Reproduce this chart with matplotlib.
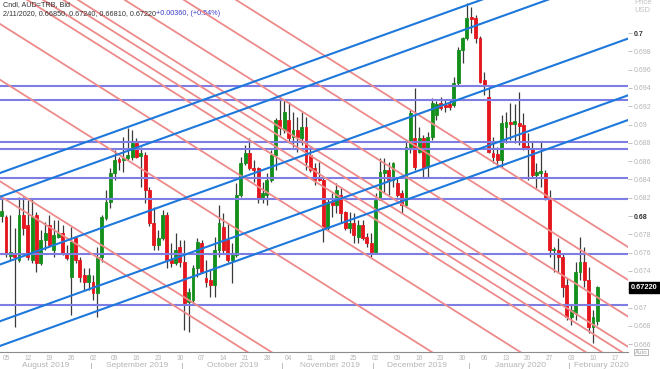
import numpy as np
import matplotlib.pyplot as plt
from matplotlib import transforms

plt.rcParams['font.family'] = ['Liberation Sans', 'DejaVu Sans']

#-------Candles: weekday index counted from 01 Aug 2019-----------
day = np.arange(1, 139)
opn = [0.6800, 0.6799, 0.6756, 0.6759, 0.6752, 0.6801, 0.6790, 0.6752, 0.6801, 0.6749,
       0.6774, 0.6790, 0.6763, 0.6777, 0.6781, 0.6760, 0.6733, 0.6776, 0.6752, 0.6736,
       0.6728, 0.6728, 0.6716, 0.6755, 0.6798, 0.6815, 0.6847, 0.6862, 0.6861, 0.6863,
       0.6865, 0.6880, 0.6866, 0.6867, 0.6828, 0.6792, 0.6768, 0.6776, 0.6801, 0.6752,
       0.6749, 0.6766, 0.6750, 0.6706, 0.6708, 0.6743, 0.6771, 0.6732, 0.6730, 0.6725,
       0.6763, 0.6788, 0.6774, 0.6752, 0.6757, 0.6823, 0.6858, 0.6869, 0.6853, 0.6853,
       0.6820, 0.6823, 0.6839, 0.6867, 0.6905, 0.6894, 0.6905, 0.6886, 0.6894, 0.6885,
       0.6897, 0.6867, 0.6853, 0.6843, 0.6839, 0.6787, 0.6815, 0.6812, 0.6823, 0.6804,
       0.6787, 0.6792, 0.6777, 0.6790, 0.6777, 0.6771, 0.6761, 0.6818, 0.6847, 0.6850,
       0.6839, 0.6836, 0.6825, 0.6812, 0.6875, 0.6885, 0.6870, 0.6885, 0.6854, 0.6886,
       0.6910, 0.6924, 0.6921, 0.6922, 0.6921, 0.6945, 0.6982, 0.6995, 0.7018, 0.7016,
       0.6995, 0.6949, 0.6930, 0.6869, 0.6868, 0.6861, 0.6897, 0.6903, 0.6901, 0.6902,
       0.6900, 0.6877, 0.6874, 0.6845, 0.6847, 0.6847, 0.6818, 0.6763, 0.6763, 0.6755,
       0.6725, 0.6690, 0.6694, 0.6739, 0.6750, 0.6730, 0.6679, 0.6685]
high = [0.6821, 0.6801, 0.6801, 0.6787, 0.6821, 0.6821, 0.6818, 0.6820, 0.6804, 0.6785,
        0.6794, 0.6801, 0.6796, 0.6796, 0.6790, 0.6768, 0.6788, 0.6777, 0.6755, 0.6743,
        0.6743, 0.6736, 0.6766, 0.6801, 0.6828, 0.6853, 0.6872, 0.6865, 0.6886, 0.6896,
        0.6894, 0.6885, 0.6875, 0.6870, 0.6832, 0.6810, 0.6785, 0.6807, 0.6804, 0.6771,
        0.6781, 0.6774, 0.6774, 0.6721, 0.6747, 0.6776, 0.6774, 0.6752, 0.6741, 0.6777,
        0.6812, 0.6803, 0.6792, 0.6771, 0.6836, 0.6865, 0.6878, 0.6885, 0.6861, 0.6854,
        0.6837, 0.6847, 0.6872, 0.6907, 0.6930, 0.6927, 0.6925, 0.6914, 0.6908, 0.6914,
        0.6908, 0.6875, 0.6858, 0.6859, 0.6842, 0.6820, 0.6825, 0.6836, 0.6832, 0.6806,
        0.6804, 0.6803, 0.6796, 0.6796, 0.6781, 0.6781, 0.6825, 0.6863, 0.6863, 0.6859,
        0.6859, 0.6843, 0.6828, 0.6883, 0.6916, 0.6940, 0.6897, 0.6889, 0.6892, 0.6929,
        0.6926, 0.6930, 0.6927, 0.6927, 0.6952, 0.6985, 0.6996, 0.7033, 0.7028, 0.7020,
        0.6997, 0.6957, 0.6941, 0.6886, 0.6875, 0.6910, 0.6914, 0.6924, 0.6922, 0.6936,
        0.6913, 0.6891, 0.6881, 0.6858, 0.6881, 0.6850, 0.6828, 0.6766, 0.6776, 0.6760,
        0.6732, 0.6703, 0.6750, 0.6777, 0.6766, 0.6744, 0.6697, 0.6724]
low = [0.6794, 0.6755, 0.6752, 0.6679, 0.6750, 0.6779, 0.6752, 0.6749, 0.6739, 0.6747,
       0.6763, 0.6766, 0.6755, 0.6776, 0.6757, 0.6752, 0.6692, 0.6749, 0.6728, 0.6719,
       0.6719, 0.6708, 0.6690, 0.6750, 0.6796, 0.6809, 0.6839, 0.6850, 0.6848, 0.6861,
       0.6861, 0.6863, 0.6832, 0.6814, 0.6789, 0.6763, 0.6763, 0.6774, 0.6743, 0.6744,
       0.6747, 0.6744, 0.6675, 0.6673, 0.6703, 0.6733, 0.6738, 0.6722, 0.6712, 0.6712,
       0.6755, 0.6760, 0.6750, 0.6727, 0.6755, 0.6821, 0.6856, 0.6850, 0.6837, 0.6814,
       0.6814, 0.6812, 0.6837, 0.6850, 0.6889, 0.6891, 0.6880, 0.6875, 0.6870, 0.6878,
       0.6850, 0.6848, 0.6834, 0.6838, 0.6772, 0.6785, 0.6799, 0.6803, 0.6792, 0.6785,
       0.6781, 0.6771, 0.6771, 0.6774, 0.6766, 0.6755, 0.6760, 0.6817, 0.6825, 0.6823,
       0.6832, 0.6821, 0.6803, 0.6810, 0.6869, 0.6850, 0.6869, 0.6843, 0.6842, 0.6883,
       0.6905, 0.6916, 0.6914, 0.6916, 0.6919, 0.6943, 0.6967, 0.6992, 0.7000, 0.6989,
       0.6945, 0.6932, 0.6869, 0.6858, 0.6854, 0.6853, 0.6880, 0.6883, 0.6880, 0.6878,
       0.6872, 0.6839, 0.6843, 0.6831, 0.6832, 0.6818, 0.6755, 0.6739, 0.6738, 0.6712,
       0.6686, 0.6681, 0.6686, 0.6730, 0.6722, 0.6672, 0.6661, 0.6681]
close = [0.6806, 0.6760, 0.6761, 0.6755, 0.6801, 0.6787, 0.6755, 0.6799, 0.6749, 0.6774,
         0.6781, 0.6768, 0.6779, 0.6781, 0.6760, 0.6754, 0.6772, 0.6752, 0.6733, 0.6728,
         0.6736, 0.6716, 0.6755, 0.6799, 0.6815, 0.6847, 0.6861, 0.6859, 0.6863, 0.6867,
         0.6880, 0.6865, 0.6869, 0.6828, 0.6792, 0.6768, 0.6776, 0.6801, 0.6752, 0.6749,
         0.6763, 0.6750, 0.6705, 0.6717, 0.6743, 0.6772, 0.6739, 0.6728, 0.6725, 0.6763,
         0.6792, 0.6763, 0.6752, 0.6757, 0.6823, 0.6858, 0.6869, 0.6853, 0.6850, 0.6820,
         0.6825, 0.6839, 0.6867, 0.6905, 0.6896, 0.6914, 0.6885, 0.6894, 0.6886, 0.6897,
         0.6859, 0.6850, 0.6839, 0.6839, 0.6787, 0.6815, 0.6812, 0.6828, 0.6803, 0.6787,
         0.6792, 0.6779, 0.6790, 0.6776, 0.6771, 0.6761, 0.6818, 0.6848, 0.6850, 0.6839,
         0.6858, 0.6823, 0.6812, 0.6875, 0.6913, 0.6854, 0.6885, 0.6853, 0.6886, 0.6924,
         0.6922, 0.6918, 0.6919, 0.6919, 0.6945, 0.6982, 0.6995, 0.7016, 0.7015, 0.6995,
         0.6947, 0.6943, 0.6870, 0.6865, 0.6861, 0.6902, 0.6903, 0.6901, 0.6904, 0.6898,
         0.6874, 0.6873, 0.6845, 0.6848, 0.6849, 0.6820, 0.6763, 0.6764, 0.6755, 0.6722,
         0.6690, 0.6697, 0.6739, 0.6750, 0.6730, 0.6679, 0.6690, 0.6722]

#-------Drawn levels and channels-----------
levels = [0.6942, 0.6927, 0.6881, 0.6873, 0.6842, 0.6819, 0.6759, 0.6703]
line_days = [0.6, 145.1]
blue_start = [0.6847, 0.6821, 0.6747, 0.6685, 0.6658]
blue_end = [0.7094, 0.7068, 0.6994, 0.6932, 0.6905]
red_start = [0.6822, 0.6838, 0.6949, 0.7010, 0.7055, 0.7066, 0.7080, 0.7090, 0.7122, 0.7163, 0.7199]
red_end = [0.6389, 0.6406, 0.6516, 0.6577, 0.6622, 0.6633, 0.6647, 0.6657, 0.6690, 0.6730, 0.6766]

#-------Axis labels-----------
tick_days = np.arange(2, 143, 5)
tick_labels = ['05', '12', '19', '26', '02', '09', '16', '23', '30', '07', '14', '21', '28', '04',
               '11', '18', '25', '02', '09', '16', '23', '30', '06', '13', '20', '27', '03', '10', '17']
months = ['August 2019', 'September 2019', 'October 2019', 'November 2019',
          'December 2019', 'January 2020', 'February 2020']
month_pos = [11, 32.1, 54.2, 76.5, 96.5, 120.4, 132.6]
month_breaks = [21.5, 42.5, 65.5, 86.5, 108.5, 131.5]
last_price = 0.6722

fig = plt.figure(figsize=(6.6, 3.69), dpi=100)
ax = fig.add_axes([0, 17/369, 628/660, 352/369])

o = np.array(opn)
c = np.array(close)
col = np.where(c >= o, '#13901c', '#e5161d')
ax.vlines(day, low, high, color='#3a3a3a', lw=0.9, zorder=2)
ax.bar(day, np.abs(c - o), bottom=np.minimum(o, c), width=0.66,
       color=col, edgecolor=col, linewidth=0.6, zorder=3)

for lv in levels:
    ax.axhline(lv, color='#7d7de3', lw=1.5, zorder=4)
for a, b in zip(red_start, red_end):
    ax.plot(line_days, [a, b], color='#ee8a8a', lw=1.3, zorder=4)
for a, b in zip(blue_start, blue_end):
    ax.plot(line_days, [a, b], color='#1e78dc', lw=1.5, zorder=5)

ax.set_xlim(0.62, 145.05)
ax.set_ylim(0.66514, 0.70361)

for s in ['left', 'top', 'right']:
    ax.spines[s].set_visible(False)
ax.spines['bottom'].set_color('#8c8c8c')

ax.set_xticks(tick_days)
ax.set_xticklabels(tick_labels)
ax.tick_params(axis='x', length=0, labelsize=4.8, labelcolor='#b4b4b4', pad=2.5)

# right price scale, 0.672 sits under the last price box
yt = np.arange(0.666, 0.7001, 0.002)
ax.yaxis.tick_right()
ax.set_yticks(yt)
ax.set_yticklabels(['' if abs(v - 0.672) < 1e-6 else '%g' % round(v, 3) for v in yt])
ax.tick_params(axis='y', length=3, width=0.7, color='#c0c0c0', labelsize=5,
               labelcolor='#b4b4b4', pad=1)
for lab in ax.get_yticklabels():
    if lab.get_text() in ('0.7', '0.68'):
        lab.set_color('#333333')
        lab.set_fontweight('bold')

xt = ax.get_xaxis_transform()
for name, pos in zip(months, month_pos):
    ax.text(pos, -0.027, name, transform=xt, ha='left' if name.startswith('Feb') else 'center',
            va='top', fontsize=6, color='#b4b4b4', clip_on=False)
for mb in month_breaks:
    ax.plot([mb, mb], [-0.03, -0.06], transform=xt, color='#bbbbbb', lw=0.7, clip_on=False)

# last price box
yt_trans = transforms.blended_transform_factory(ax.transAxes, ax.transData)
ax.text(1.005, last_price, '0.67220', transform=yt_trans, ha='left', va='center',
        fontsize=5.3, fontweight='bold', color='white', zorder=10, clip_on=False,
        bbox=dict(boxstyle='square,pad=0.25', fc='black', ec='black'))

fig.text(0.961, 1 - 14/369, 'Price\nUSD', ha='left', va='bottom', fontsize=5.5,
         color='#c0c0c0', linespacing=1.2)
fig.text(0.962, 1 - 352/369, 'Auto', ha='left', va='center', fontsize=4.5, color='#a0a0a0',
         bbox=dict(boxstyle='square,pad=0.1', fc='white', ec='#aaaaaa', lw=0.6))

fig.text(0.004, 1 - 1/369, 'Cndl, AUD=TRB, Bid', ha='left', va='top', fontsize=5.2, color='#333333')
t2 = fig.text(0.004, 1 - 10/369, '2/11/2020, 0.66850, 0.67240, 0.66810, 0.67220',
              ha='left', va='top', fontsize=5.2, color='#333333')
ax.annotate('+0.00360, (+0.54%)', xy=(1, 0), xycoords=t2, ha='left', va='bottom',
            fontsize=5.2, color='#3c3cc8')

fig.savefig('out.png', dpi=100)
